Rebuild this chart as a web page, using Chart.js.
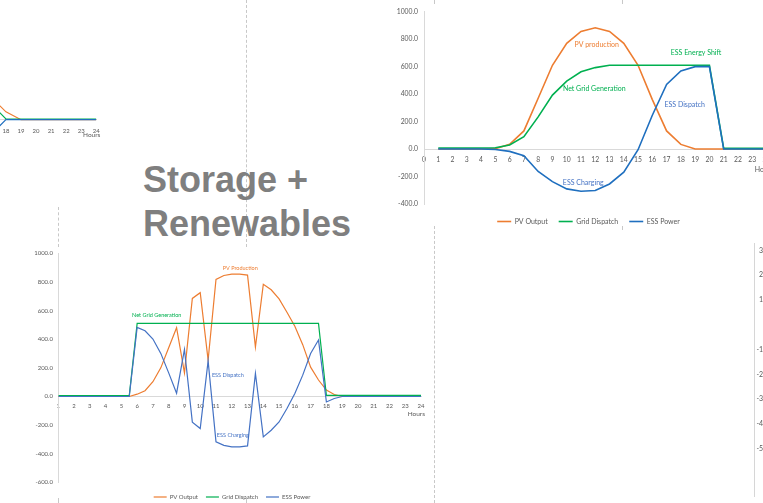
<!DOCTYPE html>
<html>
<head>
<meta charset="utf-8">
<title>Storage + Renewables</title>
<script src="https://cdn.jsdelivr.net/npm/chart.js@4.4.1/dist/chart.umd.min.js"></script>
<style>
  html, body { margin: 0; padding: 0; background: #fff; }
  body { position: relative; width: 763px; height: 503px; overflow: hidden; }
  canvas { position: absolute; }
  .guide { position: absolute; width: 0; border-left: 1px dashed #c8c8c8; }
  .rule { position: absolute; width: 0; border-left: 1px solid #d6d6d6; }
  #heading {
    position: absolute; left: 143px; top: 158px; margin: 0;
    font: bold 36px/44px "Liberation Sans", Arial, sans-serif;
    color: #7f7f7f; white-space: nowrap;
  }
</style>
</head>
<body>
<div class="guide" style="left:246px;top:0;height:247px"></div>
<div class="guide" style="left:58px;top:207px;height:40px"></div>
<div class="guide" style="left:434px;top:226px;height:277px"></div>
<div class="guide" style="left:434px;top:0;height:4px"></div>
<div class="guide" style="left:622px;top:0;height:4px"></div>
<div class="guide" style="left:622px;top:226px;height:4px"></div>
<div class="guide" style="left:58px;top:498px;height:5px"></div>
<div class="guide" style="left:246px;top:498px;height:5px"></div>
<div class="rule" style="left:754px;top:243px;height:254px"></div>

<h1 id="heading">Storage +<br>Renewables</h1>

<canvas id="shiftChart" width="417" height="235" style="left:380px;top:0"></canvas>
<canvas id="firmChart" width="464" height="270" style="left:0;top:240px"></canvas>
<canvas id="tailChart" width="130" height="236" style="left:-20px;top:-30px"></canvas>
<canvas id="edgeChart" width="120" height="240" style="left:700px;top:230px"></canvas>

<script>
// ---------- Energy shift profile (hourly) ----------
const shiftHours = [1,2,3,4,5,6,7,8,9,10,11,12,13,14,15,16,17,18,19,20,21,22,23,24];
const shiftPV    = [0,0,0,0,3,34,132,370,610,770,856,883,856,770,610,360,132,34,0,0,0,0,0,0];
const shiftGrid  = [8,8,8,8,10,30,90,234,393,495,563,593,610,610,610,610,610,610,610,610,5,5,5,5];
const shiftESS   = [0,0,0,0,-3,-17,-49,-163,-237,-290,-307,-302,-254,-168,-5,246,471,568,600,600,0,0,0,0];
const shiftYTicks = [-400,-200,0,200,400,600,800,1000];
const shiftXTicks = [0,1,2,3,4,5,6,7,8,9,10,11,12,13,14,15,16,17,18,19,20,21,22,23,24];

// ---------- Firmed output profile (half-hourly) ----------
const firmHours = [1,1.5,2,2.5,3,3.5,4,4.5,5,5.5,6,6.5,7,7.5,8,8.5,9,9.5,10,10.5,11,11.5,12,12.5,
                   13,13.5,14,14.5,15,15.5,16,16.5,17,17.5,18,18.5,19,19.5,20,20.5,21,21.5,22,22.5,23,23.5,24];
const firmPV   = [0,0,0,0,0,0,0,0,0,0, 16,40,103,200,340,480,165,685,725,254,
                  818,845,855,855,848,345,783,745,682,588, 490,362,205,115,45,14,0,
                  0,0,0,0,0,0,0,0,0,0];
const firmGrid = [7,7,7,7,7,7,7,7,7,7,
                  510,510,510,510,510,510,510,510,510,510,510,510,510,510,510,510,510,510,510,510,510,510,510,510,
                  8,8,8,8,8,8,8,8,8,8,8,8,8];
const firmESS  = [0,0,0,0,0,0,0,0,0,0, 483,459,401,301,165,23,329,-179,-224,249,
                  -317,-341,-352,-352,-345,161,-282,-236,-178,-84, 21,149,300,394,-38,-14,0,
                  0,0,0,0,0,0,0,0,0,0];
const firmYTicks = [-600,-400,-200,0,200,400,600,800,1000];
const firmXTicks = [1,2,3,4,5,6,7,8,9,10,11,12,13,14,15,16,17,18,19,20,21,22,23,24];

// ---------- Evening tail of another profile ----------
const tailHours = [17,18,19,20,21,22,23,24];
const tailPV    = [160,55,0,0,0,0,0,0];
const tailGrid  = [112,6,4,4,4,4,4,4];
const tailESS   = [-105,0,0,0,0,0,0,0];
const tailXTicks = [17,18,19,20,21,22,23,24];

// ---------- Axis of a neighbouring chart ----------
const edgeYTicks = [-500,-400,-300,-200,-100,0,100,200,300];

const ORANGE = '#ED7D31', GREEN = '#00B050', BLUE = '#1F6FBF', BLUE_LIGHT = '#4472C4';
const TICK = '#595959', AXIS = '#d9d9d9';
Chart.defaults.font.family = 'Lato, "Open Sans", sans-serif';
Chart.defaults.color = TICK;

const points = (xs, ys) => xs.map((x, i) => ({ x, y: ys[i] }));
const series = (label, xs, ys, color, width, order) => ({
  label, data: points(xs, ys), borderColor: color, backgroundColor: color,
  borderWidth: width, pointRadius: 0, tension: 0, order, xAxisID: 'x', yAxisID: 'y'
});
const fixed = v => Number(v).toFixed(1);

// Text written inside the plot (series notes and the "Hours" caption)
function overlay(notes, noteFont, caption) {
  return {
    id: 'overlay',
    afterDatasetsDraw(chart) {
      const { ctx } = chart, xs = chart.scales.x, ys = chart.scales.y;
      ctx.save();
      ctx.textAlign = 'center';
      ctx.textBaseline = 'middle';
      ctx.font = noteFont;
      notes.forEach(n => {
        ctx.fillStyle = n.color;
        ctx.fillText(n.text, xs.getPixelForValue(n.x), ys.getPixelForValue(n.y));
      });
      if (caption) {
        ctx.font = caption.font;
        ctx.fillStyle = TICK;
        ctx.fillText(caption.text, xs.getPixelForValue(xs.max) + caption.dx, ys.getPixelForValue(0) + caption.dy);
      }
      ctx.restore();
    }
  };
}

const spacer = (kind, size) => ({
  type: 'linear', position: kind === 'h' ? 'bottom' : 'right', display: true,
  ticks: { display: false }, grid: { display: false, drawTicks: false }, border: { display: false },
  afterFit(s) { if (kind === 'h') s.height = size; else s.width = size; }
});

function profileChart(id, o) {
  return new Chart(document.getElementById(id), {
    type: 'line',
    data: { datasets: o.datasets },
    options: {
      responsive: false, animation: false, events: [], devicePixelRatio: 1,
      layout: { padding: o.padding },
      plugins: {
        tooltip: { enabled: false },
        legend: o.legend ? {
          display: true, position: 'bottom',
          labels: {
            usePointStyle: true, pointStyle: 'line', pointStyleWidth: o.legend.sample,
            padding: o.legend.padding, color: TICK, font: { size: o.legend.size },
            sort: (a, b) => a.datasetIndex - b.datasetIndex
          }
        } : { display: false }
      },
      scales: Object.assign({
        x: {
          type: 'linear', position: { y: 0 }, min: o.xTicks[0], max: o.xTicks[o.xTicks.length - 1],
          afterBuildTicks(s) { s.ticks = o.xTicks.map(v => ({ value: v })); },
          ticks: { autoSkip: false, maxRotation: 0, padding: o.xPad, font: { size: o.xFont }, color: TICK },
          grid: { display: false, drawTicks: false },
          border: { display: true, color: AXIS, width: 1 }
        },
        y: {
          type: 'linear', display: o.yShow, position: 'left',
          min: o.yTicks[0], max: o.yTicks[o.yTicks.length - 1],
          afterBuildTicks(s) { s.ticks = o.yTicks.map(v => ({ value: v })); },
          afterFit(s) { s.width = o.yWidth; },
          ticks: { padding: o.yPad, font: { size: o.yFont }, color: TICK, callback: fixed },
          grid: { display: false, drawTicks: false },
          border: { display: true, color: AXIS, width: 1 }
        }
      }, o.extraScales || {})
    },
    plugins: [overlay(o.notes, o.noteFont, o.caption)]
  });
}

// Energy shift chart
profileChart('shiftChart', {
  datasets: [
    series('PV Output', shiftHours, shiftPV, ORANGE, 1.6, 3),
    series('Grid Dispatch', shiftHours, shiftGrid, GREEN, 1.6, 2),
    series('ESS Power', shiftHours, shiftESS, BLUE, 1.6, 1)
  ],
  padding: { left: 0, right: 0, top: 11.7, bottom: 0 },
  xTicks: shiftXTicks, xPad: 6.4, xFont: 6.8,
  yTicks: shiftYTicks, yShow: true, yWidth: 44, yPad: 6, yFont: 6.8,
  legend: { sample: 14, padding: 11, size: 7 },
  extraScales: { gap: spacer('h', 3), side: spacer('v', 30.5) },
  noteFont: '7px Lato, sans-serif',
  notes: [
    { text: 'PV production', x: 12.1, y: 762, color: ORANGE },
    { text: 'Net Grid Generation', x: 11.93, y: 438, color: GREEN },
    { text: 'ESS Energy Shift', x: 19.06, y: 701, color: GREEN },
    { text: 'ESS Dispatch', x: 18.27, y: 324, color: BLUE_LIGHT },
    { text: 'ESS Charging', x: 11.16, y: -248, color: BLUE_LIGHT }
  ],
  caption: { text: 'Hours', font: '7px Lato, sans-serif', dx: -2.3, dy: 20.3 }
});

// Firmed output chart
profileChart('firmChart', {
  datasets: [
    series('PV Output', firmHours, firmPV, ORANGE, 1.2, 3),
    series('Grid Dispatch', firmHours, firmGrid, GREEN, 1.2, 2),
    series('ESS Power', firmHours, firmESS, BLUE_LIGHT, 1.2, 1)
  ],
  padding: { left: 0, right: 0, top: 13.3, bottom: 0 },
  xTicks: firmXTicks, xPad: 5.8, xFont: 6,
  yTicks: firmYTicks, yShow: true, yWidth: 58.3, yPad: 5.3, yFont: 6,
  legend: { sample: 13, padding: 8, size: 6 },
  extraScales: { gap: spacer('h', 3.6), side: spacer('v', 43) },
  noteFont: '5.5px Lato, sans-serif',
  notes: [
    { text: 'PV Production', x: 12.54, y: 896, color: ORANGE },
    { text: 'Net Grid Generation', x: 7.24, y: 569, color: GREEN },
    { text: 'ESS Dispatch', x: 11.75, y: 149, color: BLUE_LIGHT },
    { text: 'ESS Charging', x: 12.07, y: -271, color: BLUE_LIGHT }
  ],
  caption: { text: 'Hours', font: '6.5px Lato, sans-serif', dx: -4.7, dy: 17 }
});

// Evening tail chart
profileChart('tailChart', {
  datasets: [
    series('PV Output', tailHours, tailPV, ORANGE, 1.2, 3),
    series('Grid Dispatch', tailHours, tailGrid, GREEN, 1.2, 2),
    series('ESS Power', tailHours, tailESS, BLUE, 1.2, 1)
  ],
  padding: { left: 10.1, right: 13.7, top: 6.7, bottom: 0.5 },
  xTicks: tailXTicks, xPad: 7.4, xFont: 6,
  yTicks: firmYTicks, yShow: false, yWidth: 0, yPad: 0, yFont: 6,
  legend: null,
  noteFont: '6px Lato, sans-serif',
  notes: [],
  caption: { text: 'Hours', font: '6.5px Lato, sans-serif', dx: -4.6, dy: 15.3 }
});

// Value axis of the neighbouring chart
new Chart(document.getElementById('edgeChart'), {
  type: 'line',
  data: { datasets: [] },
  options: {
    responsive: false, animation: false, events: [], devicePixelRatio: 1,
    layout: { padding: { left: 0, right: 0, top: 20.3, bottom: 21.3 } },
    plugins: { legend: { display: false }, tooltip: { enabled: false } },
    scales: {
      x: { type: 'linear', display: false, min: 0, max: 1 },
      y: {
        type: 'linear', position: 'left',
        min: edgeYTicks[0], max: edgeYTicks[edgeYTicks.length - 1],
        afterBuildTicks(s) { s.ticks = edgeYTicks.map(v => ({ value: v })); },
        afterFit(s) { s.width = 82; },
        ticks: { padding: 5, font: { size: 7 }, color: TICK, callback: fixed },
        grid: { display: false, drawTicks: false },
        border: { display: false }
      }
    }
  }
});
</script>
</body>
</html>
